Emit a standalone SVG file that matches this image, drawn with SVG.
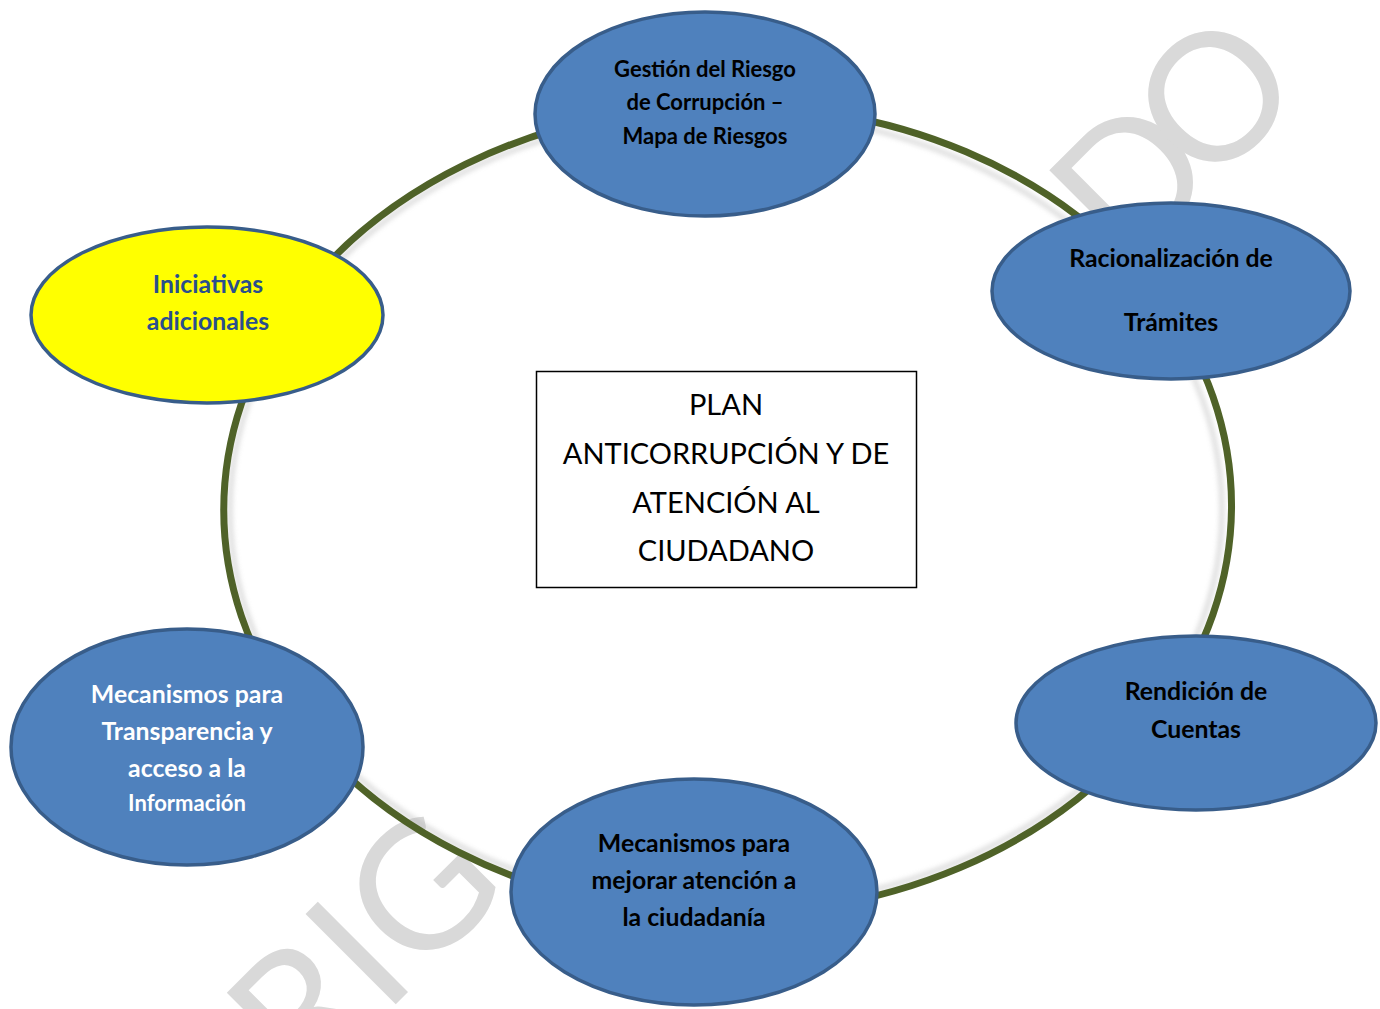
<svg xmlns="http://www.w3.org/2000/svg" width="1380" height="1009" viewBox="0 0 1380 1009">
<defs>
<filter id="blur" x="-10%" y="-10%" width="120%" height="120%"><feGaussianBlur stdDeviation="2.5"/></filter>
</defs>
<style>
.wm{font-family:Lato,"Liberation Sans",sans-serif;font-size:178px;fill:#d9d9d9}
.ring{fill:none;stroke:#4f6228;stroke-width:7}
.node{fill:#4f81bd;stroke:#385d8a;stroke-width:3.5}
.yel{fill:#ffff00;stroke:#385d8a;stroke-width:3.5}
.t{font-family:Lato,"Liberation Sans",sans-serif;font-weight:bold;font-size:24.8px;text-anchor:middle;fill:#000}
.s{font-size:22px}
.w{fill:#fff}
.c{font-family:Lato,"Liberation Sans",sans-serif;font-size:29px;text-anchor:middle;fill:#000}
</style>
<rect width="1380" height="1009" fill="#fff"/>
<g id="watermark">
<text class="wm" transform="translate(305.5,1094.5) rotate(-45)">RIG</text>
<text class="wm" transform="translate(1128,272) rotate(-45)" style="letter-spacing:-22px">DO</text>
</g>
<g id="connectors">
<ellipse cx="726" cy="510" rx="496" ry="398" fill="none" stroke="#aaa" stroke-width="5" opacity="0.4" filter="url(#blur)"/>
<path class="ring" d="M 705 106 A 502 404 0 0 1 1161 299"/>
<path class="ring" d="M 1161 299 A 502 404 0 0 1 1161 712"/>
<path class="ring" d="M 1161 712 A 502 404 0 0 1 687 913"/>
<path class="ring" d="M 687 913 A 502 404 0 0 1 291 712"/>
<path class="ring" d="M 291 712 A 502 404 0 0 1 291 308"/>
<path class="ring" d="M 291 308 A 502 404 0 0 1 705 106"/>
</g>
<g id="center">
<rect x="536.5" y="371.5" width="380" height="216" fill="#fff" stroke="#000" stroke-width="1.5"/>
<text class="c" x="726" y="415">PLAN</text>
<text class="c" x="726" y="464">ANTICORRUPCIÓN Y DE</text>
<text class="c" x="726" y="513">ATENCIÓN AL</text>
<text class="c" x="726" y="561">CIUDADANO</text>
</g>
<g id="n-gestion">
<ellipse class="node" cx="705" cy="114" rx="170" ry="102"/>
<text class="t s" x="705" y="77">Gestión del Riesgo</text>
<text class="t s" x="705" y="110">de Corrupción –</text>
<text class="t s" x="705" y="144">Mapa de Riesgos</text>
</g>
<g id="n-racionalizacion">
<ellipse class="node" cx="1171" cy="291" rx="179" ry="88"/>
<text class="t" x="1171" y="267">Racionalización de</text>
<text class="t" x="1171" y="331">Trámites</text>
</g>
<g id="n-rendicion">
<ellipse class="node" cx="1196" cy="723" rx="180" ry="87"/>
<text class="t" x="1196" y="700">Rendición de</text>
<text class="t" x="1196" y="738">Cuentas</text>
</g>
<g id="n-mejorar">
<ellipse class="node" cx="694" cy="892" rx="183" ry="113"/>
<text class="t" x="694" y="852">Mecanismos para</text>
<text class="t" x="694" y="889">mejorar atención a</text>
<text class="t" x="694" y="926">la ciudadanía</text>
</g>
<g id="n-transparencia">
<ellipse class="node" cx="187" cy="747" rx="176" ry="118"/>
<text class="t w" x="187" y="703">Mecanismos para</text>
<text class="t w" x="187" y="740">Transparencia y</text>
<text class="t w" x="187" y="777">acceso a la</text>
<text class="t w s" x="187" y="811">Información</text>
</g>
<g id="n-iniciativas">
<ellipse class="yel" cx="207" cy="315" rx="176" ry="88"/>
<text class="t" x="208" y="293" style="fill:#2a4f8c">Iniciativas</text>
<text class="t" x="208" y="330" style="fill:#2a4f8c">adicionales</text>
</g>
</svg>
